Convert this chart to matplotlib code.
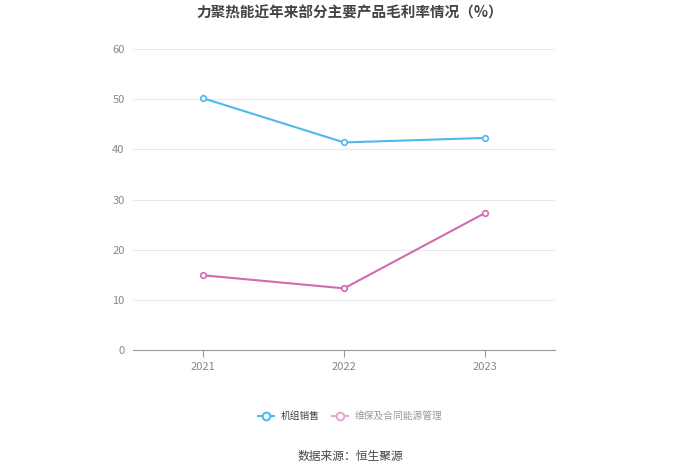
import matplotlib.pyplot as plt
from matplotlib.lines import Line2D

plt.rcParams['font.family'] = ['Noto Sans CJK SC', 'DejaVu Sans']

years = ['2021', '2022', '2023']
unit_sales = [50.2, 41.4, 42.3]
maintenance = [14.9, 12.3, 27.3]
series_names = ['机组销售', '维保及合同能源管理']
y_ticks = [0, 10, 20, 30, 40, 50, 60]

blue = '#4fb9ec'
pink = '#d46aae'

fig = plt.figure(figsize=(7, 4.73), dpi=100)
ax = fig.add_axes([0.19, 0.26, 0.603, 0.636])

x = range(len(years))
ax.plot(x, unit_sales, color=blue, lw=1.5, marker='o', ms=4, mfc='white', mec=blue, mew=1.2, zorder=3)
ax.plot(x, maintenance, color=pink, lw=1.5, marker='o', ms=4, mfc='white', mec=pink, mew=1.2, zorder=3)

ax.set_xlim(-0.5, 2.5)
ax.set_ylim(0, 60)
ax.set_yticks(y_ticks)
ax.set_xticks(list(x))
ax.set_xticklabels(years)
ax.grid(axis='y', color='#e6e8ee', lw=0.8)
ax.set_axisbelow(True)
for s in ['top', 'right', 'left']:
    ax.spines[s].set_visible(False)
ax.spines['bottom'].set_color('#9a9a9a')
ax.tick_params(axis='y', length=0, pad=6, labelsize=8, labelcolor='#888888')
ax.tick_params(axis='x', length=5, color='#9a9a9a', labelsize=8, labelcolor='#888888')

fig.text(0.5, 0.974, '力聚热能近年来部分主要产品毛利率情况（%）', ha='center', va='center',
         fontsize=10.5, fontweight='bold', color='#444444')

handles = [
    Line2D([], [], color=blue, lw=1.5, marker='o', ms=5.5, mfc='white', mec=blue, mew=1.5),
    Line2D([], [], color='#eaa9d3', lw=1.5, marker='o', ms=5.5, mfc='white', mec='#eaa9d3', mew=1.5),
]
leg = fig.legend(handles, series_names, loc='center', bbox_to_anchor=(0.5, 0.12), ncol=2,
                 frameon=False, fontsize=7, handlelength=1.7, columnspacing=1.3, handletextpad=0.6)
leg.get_texts()[0].set_color('#444444')
leg.get_texts()[1].set_color('#999999')

fig.text(0.5, 0.034, '数据来源：恒生聚源', ha='center', va='center', fontsize=8.5, color='#444444')

fig.savefig('out.png', dpi=100)
